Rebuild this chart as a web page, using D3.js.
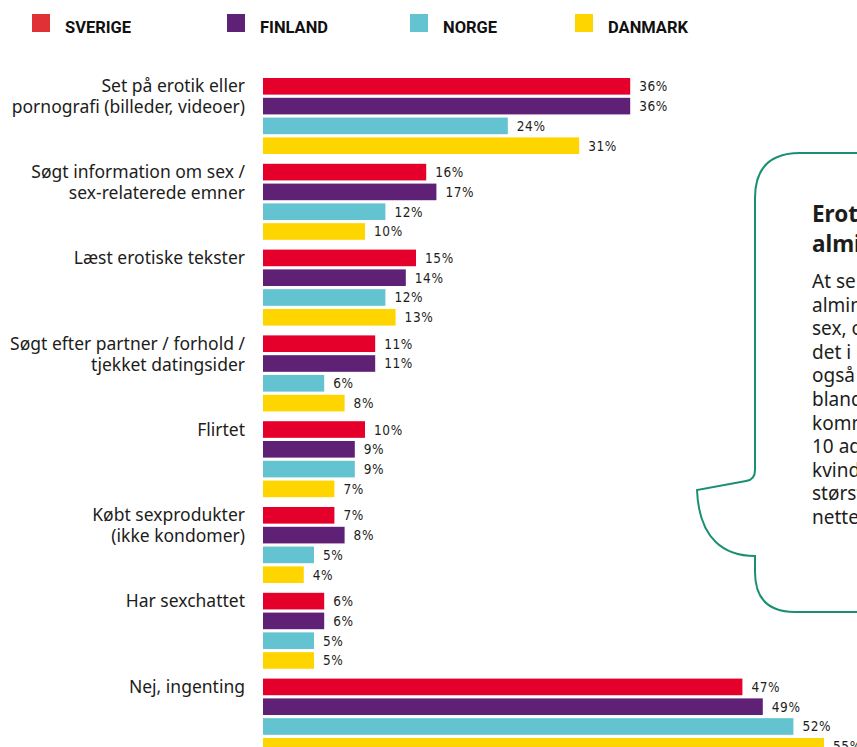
<!DOCTYPE html>
<html>
<head>
<meta charset="utf-8">
<script src="https://cdn.jsdelivr.net/npm/d3@7"></script>
<style>
  html, body { margin: 0; padding: 0; background: #fff; }
  svg { display: block; }
</style>
</head>
<body>
<svg id="chart" width="857" height="747"></svg>
<script>
const categories = [
  "Set på erotik eller\npornografi (billeder, videoer)",
  "Søgt information om sex /\nsex-relaterede emner",
  "Læst erotiske tekster",
  "Søgt efter partner / forhold /\ntjekket datingsider",
  "Flirtet",
  "Købt sexprodukter\n(ikke kondomer)",
  "Har sexchattet",
  "Nej, ingenting"
];
const seriesNames = ["SVERIGE", "FINLAND", "NORGE", "DANMARK"];
const sverige = [36, 16, 15, 11, 10, 7, 6, 47];
const finland = [36, 17, 14, 11, 9, 8, 6, 49];
const norge   = [24, 12, 12, 6, 9, 5, 5, 52];
const danmark = [31, 10, 13, 8, 7, 4, 5, 55];
const seriesValues = [sverige, finland, norge, danmark];
const barColors = ["#e4002b", "#5f2176", "#63c3d1", "#ffd500"];
const legendColors = ["#e03136", "#5f2176", "#63c3d1", "#ffd500"];

const calloutTitle = ["Erotik er", "almindeligt"];
const calloutBody = [
  "At se erotik eller porno er",
  "almindeligt, når det gælder",
  "sex, og mange unge gør",
  "det i løbet af en måned. Det er",
  "også almindeligt at søge",
  "blandt andet information, der",
  "kommer fra nettet. Over",
  "10 adspurgte mænd og",
  "kvinder har gjort det, og den",
  "største gruppe bruger",
  "nettet til det."
];

const svg = d3.select("#chart");
const W = 857, H = 747;
const textColor = "#1d1d1b";
const labelFont = "'Noto Sans', 'Open Sans', sans-serif";

// scales
const x = d3.scaleLinear().domain([0, 55]).range([263, 263 + 55 * 10.2]);
const y = d3.scaleBand().domain(categories).range([78, 78 + 8 * 85.8]).paddingInner(0).paddingOuter(0);
const yIn = d3.scaleBand().domain(seriesNames).range([0, 76]).paddingInner(0.16).paddingOuter(0);

// legend
const legendX = d3.scaleOrdinal().domain(seriesNames).range([32, 227, 410, 575]);
const legend = svg.append("g");
seriesNames.forEach((s, i) => {
  const g = legend.append("g").attr("transform", `translate(${legendX(s)},0)`);
  g.append("rect").attr("x", 0).attr("y", 14).attr("width", 18).attr("height", 18).attr("fill", legendColors[i]);
  g.append("text").attr("x", 33).attr("y", 33)
    .attr("font-family", "Roboto, 'DejaVu Sans', sans-serif")
    .attr("font-weight", 700).attr("font-size", 16.5)
    .attr("fill", "#111")
    .text(s);
});

// bars
const groups = svg.append("g").selectAll("g.cat").data(categories).join("g")
  .attr("class", "cat")
  .attr("transform", d => `translate(0,${y(d)})`);

groups.each(function(cat, ci) {
  const g = d3.select(this);
  seriesNames.forEach((s, si) => {
    const v = seriesValues[si][ci];
    g.append("rect")
      .attr("x", x(0))
      .attr("y", yIn(s))
      .attr("width", x(v) - x(0))
      .attr("height", yIn.bandwidth())
      .attr("fill", barColors[si]);
    g.append("text")
      .attr("x", x(v) + 9)
      .attr("y", yIn(s) + yIn.bandwidth() / 2 + 5)
      .attr("font-family", "'DejaVu Sans Condensed', 'DejaVu Sans', sans-serif")
      .style("font-stretch", "condensed")
      .attr("font-size", 13.5)
      .attr("letter-spacing", 0.6)
      .attr("fill", textColor)
      .text(v + "%");
  });
  // category label
  const lines = cat.split("\n");
  const t = g.append("text")
    .attr("text-anchor", "end")
    .attr("font-family", labelFont)
    .attr("font-size", 17.5)
    .attr("fill", textColor);
  lines.forEach((ln, li) => {
    t.append("tspan")
      .attr("x", 245)
      .attr("y", yIn(seriesNames[0]) + yIn.bandwidth() / 2 + 6 + li * 21)
      .text(ln);
  });
});

// callout box
const p = d3.path();
p.moveTo(W + 20, 153);
p.lineTo(800, 153);
p.quadraticCurveTo(755, 153, 755, 198);
p.lineTo(755, 470);
p.quadraticCurveTo(755, 480, 746, 481);
p.lineTo(697, 490);
p.bezierCurveTo(699, 540, 725, 556, 755, 556);
p.lineTo(755, 572);
p.quadraticCurveTo(755, 612, 795, 612);
p.lineTo(W + 20, 612);

svg.append("path")
  .attr("d", p.toString())
  .attr("fill", "#fff")
  .attr("stroke", "#1b8f72")
  .attr("stroke-width", 2);

const callout = svg.append("g");
calloutTitle.forEach((ln, i) => {
  callout.append("text")
    .attr("x", 812).attr("y", 222 + i * 30)
    .attr("font-family", labelFont)
    .attr("font-weight", 700).attr("font-size", 22.5)
    .attr("fill", textColor)
    .text(ln);
});
calloutBody.forEach((ln, i) => {
  callout.append("text")
    .attr("x", 812).attr("y", 288 + i * 23.6)
    .attr("font-family", labelFont)
    .attr("font-size", 19)
    .attr("fill", textColor)
    .text(ln);
});
</script>
</body>
</html>
